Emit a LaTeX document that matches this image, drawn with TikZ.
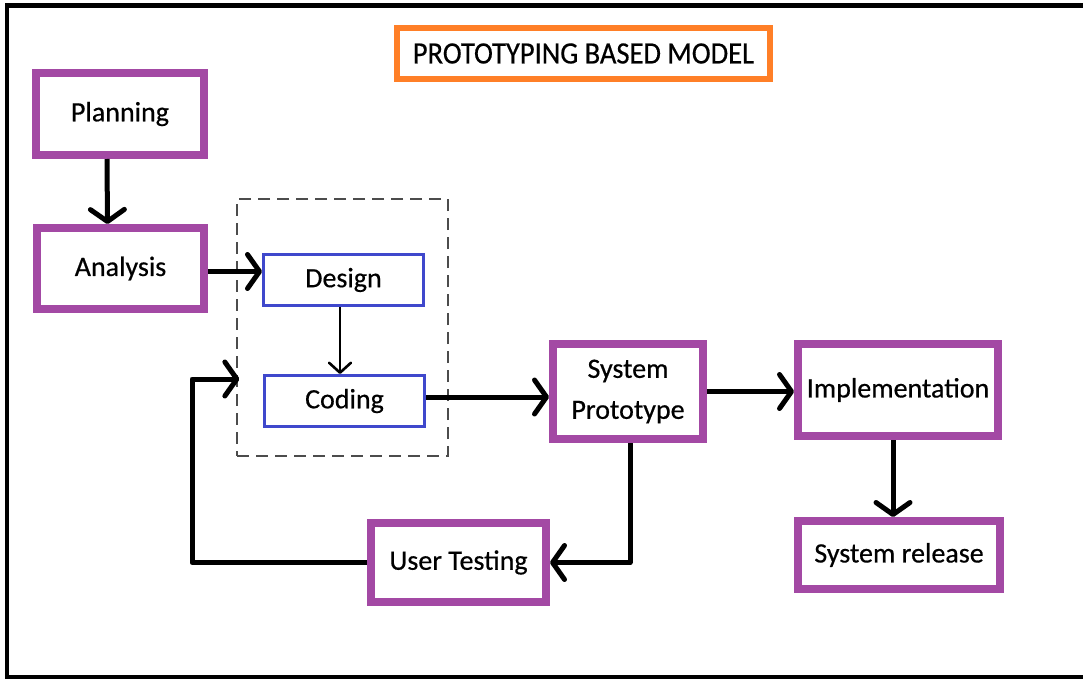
\documentclass[tikz,border=0pt]{standalone}
\usepackage{fontspec}
\setmainfont{Carlito}
\newfontfamily\boxfont[FakeBold=0.5]{Carlito}
\usepackage{graphicx}
\usetikzlibrary{arrows.meta}
\definecolor{ppurple}{HTML}{A349A4}
\definecolor{porange}{HTML}{FF7F27}
\definecolor{pblue}{HTML}{3F48CC}
\begin{document}
\begin{tikzpicture}[x=1pt,y=-1pt,
  pbox/.style={draw=ppurple,line width=8pt,rectangle,inner sep=0pt,font=\boxfont\fontsize{28}{41}\selectfont,align=center},
  bbox/.style={draw=pblue,line width=3pt,rectangle,inner sep=0pt,font=\boxfont\fontsize{28}{34}\selectfont},
  conn/.style={line width=5pt,-{Straight Barb[length=12pt,width=34pt,round]}},
  thinconn/.style={line width=2.6pt,-{Straight Barb[length=10pt,width=22pt,round]}}]
\useasboundingbox (0,0) rectangle (1083,679);
\fill[white] (0,0) rectangle (1083,679);
% frame
\draw[line width=5pt] (1083,5.5) -- (7,5.5);
\draw[line width=4pt] (7,3.5) -- (7,677) -- (1083,677);
% title
\node[draw=porange,line width=6pt,minimum width=373pt,minimum height=51pt,inner sep=0pt,font=\boxfont\fontsize{31}{36}\selectfont] (title) at (583.5,53.5) {\scalebox{0.92}[1]{PROTOTYPING BASED MODEL}};
% group
\node[draw=black!70,dashed,dash pattern=on 12pt off 7pt,line width=1.3pt,minimum width=211pt,minimum height=257pt,inner sep=0pt] (grp) at (342.5,327.5) {};
% boxes
\node[pbox,minimum width=168pt,minimum height=82pt] (plan) at (120,114) {Planning};
\node[pbox,minimum width=167pt,minimum height=81pt] (ana) at (120.5,268.5) {Analysis};
\node[bbox,minimum width=160pt,minimum height=51pt] (des) at (343.5,280) {Design};
\node[bbox,minimum width=160pt,minimum height=51pt] (cod) at (344.5,401) {Coding};
\node[pbox,minimum width=150pt,minimum height=95pt] (sp) at (628,391.5) {System\\Prototype};
\node[pbox,minimum width=200pt,minimum height=92pt] (imp) at (898,390) {Implementation};
\node[pbox,minimum width=202pt,minimum height=68pt] (sr) at (899,555) {System release};
\node[pbox,minimum width=175pt,minimum height=79pt] (ut) at (458.5,562.5) {User Testing};
\coordinate (fb) at (192,379);
% connectors
\draw[conn] ([xshift=-13pt]plan.south) -- ([xshift=-13pt]ana.north);
\draw[conn] ([yshift=-3pt]ana.east) -- ([yshift=-3pt]ana.east -| des.west);
\draw[thinconn] ([xshift=-3.5pt]des.south) -- ([xshift=-3.5pt]des.south |- cod.north);
\draw[conn] ([yshift=4pt]cod.east) -- ([yshift=4pt]cod.east -| sp.west);
\draw[conn] (sp.east) -- (sp.east -| imp.west);
\draw[conn] ([xshift=-5pt]imp.south) -- ([xshift=-5pt]imp.south |- sr.north);
\draw[conn,line join=round] ([xshift=2pt]sp.south) |- (ut.east);
\draw[conn,line join=round] (ut.west) -| (fb) -- ([xshift=3pt]fb -| grp.west);
\end{tikzpicture}
\end{document}
